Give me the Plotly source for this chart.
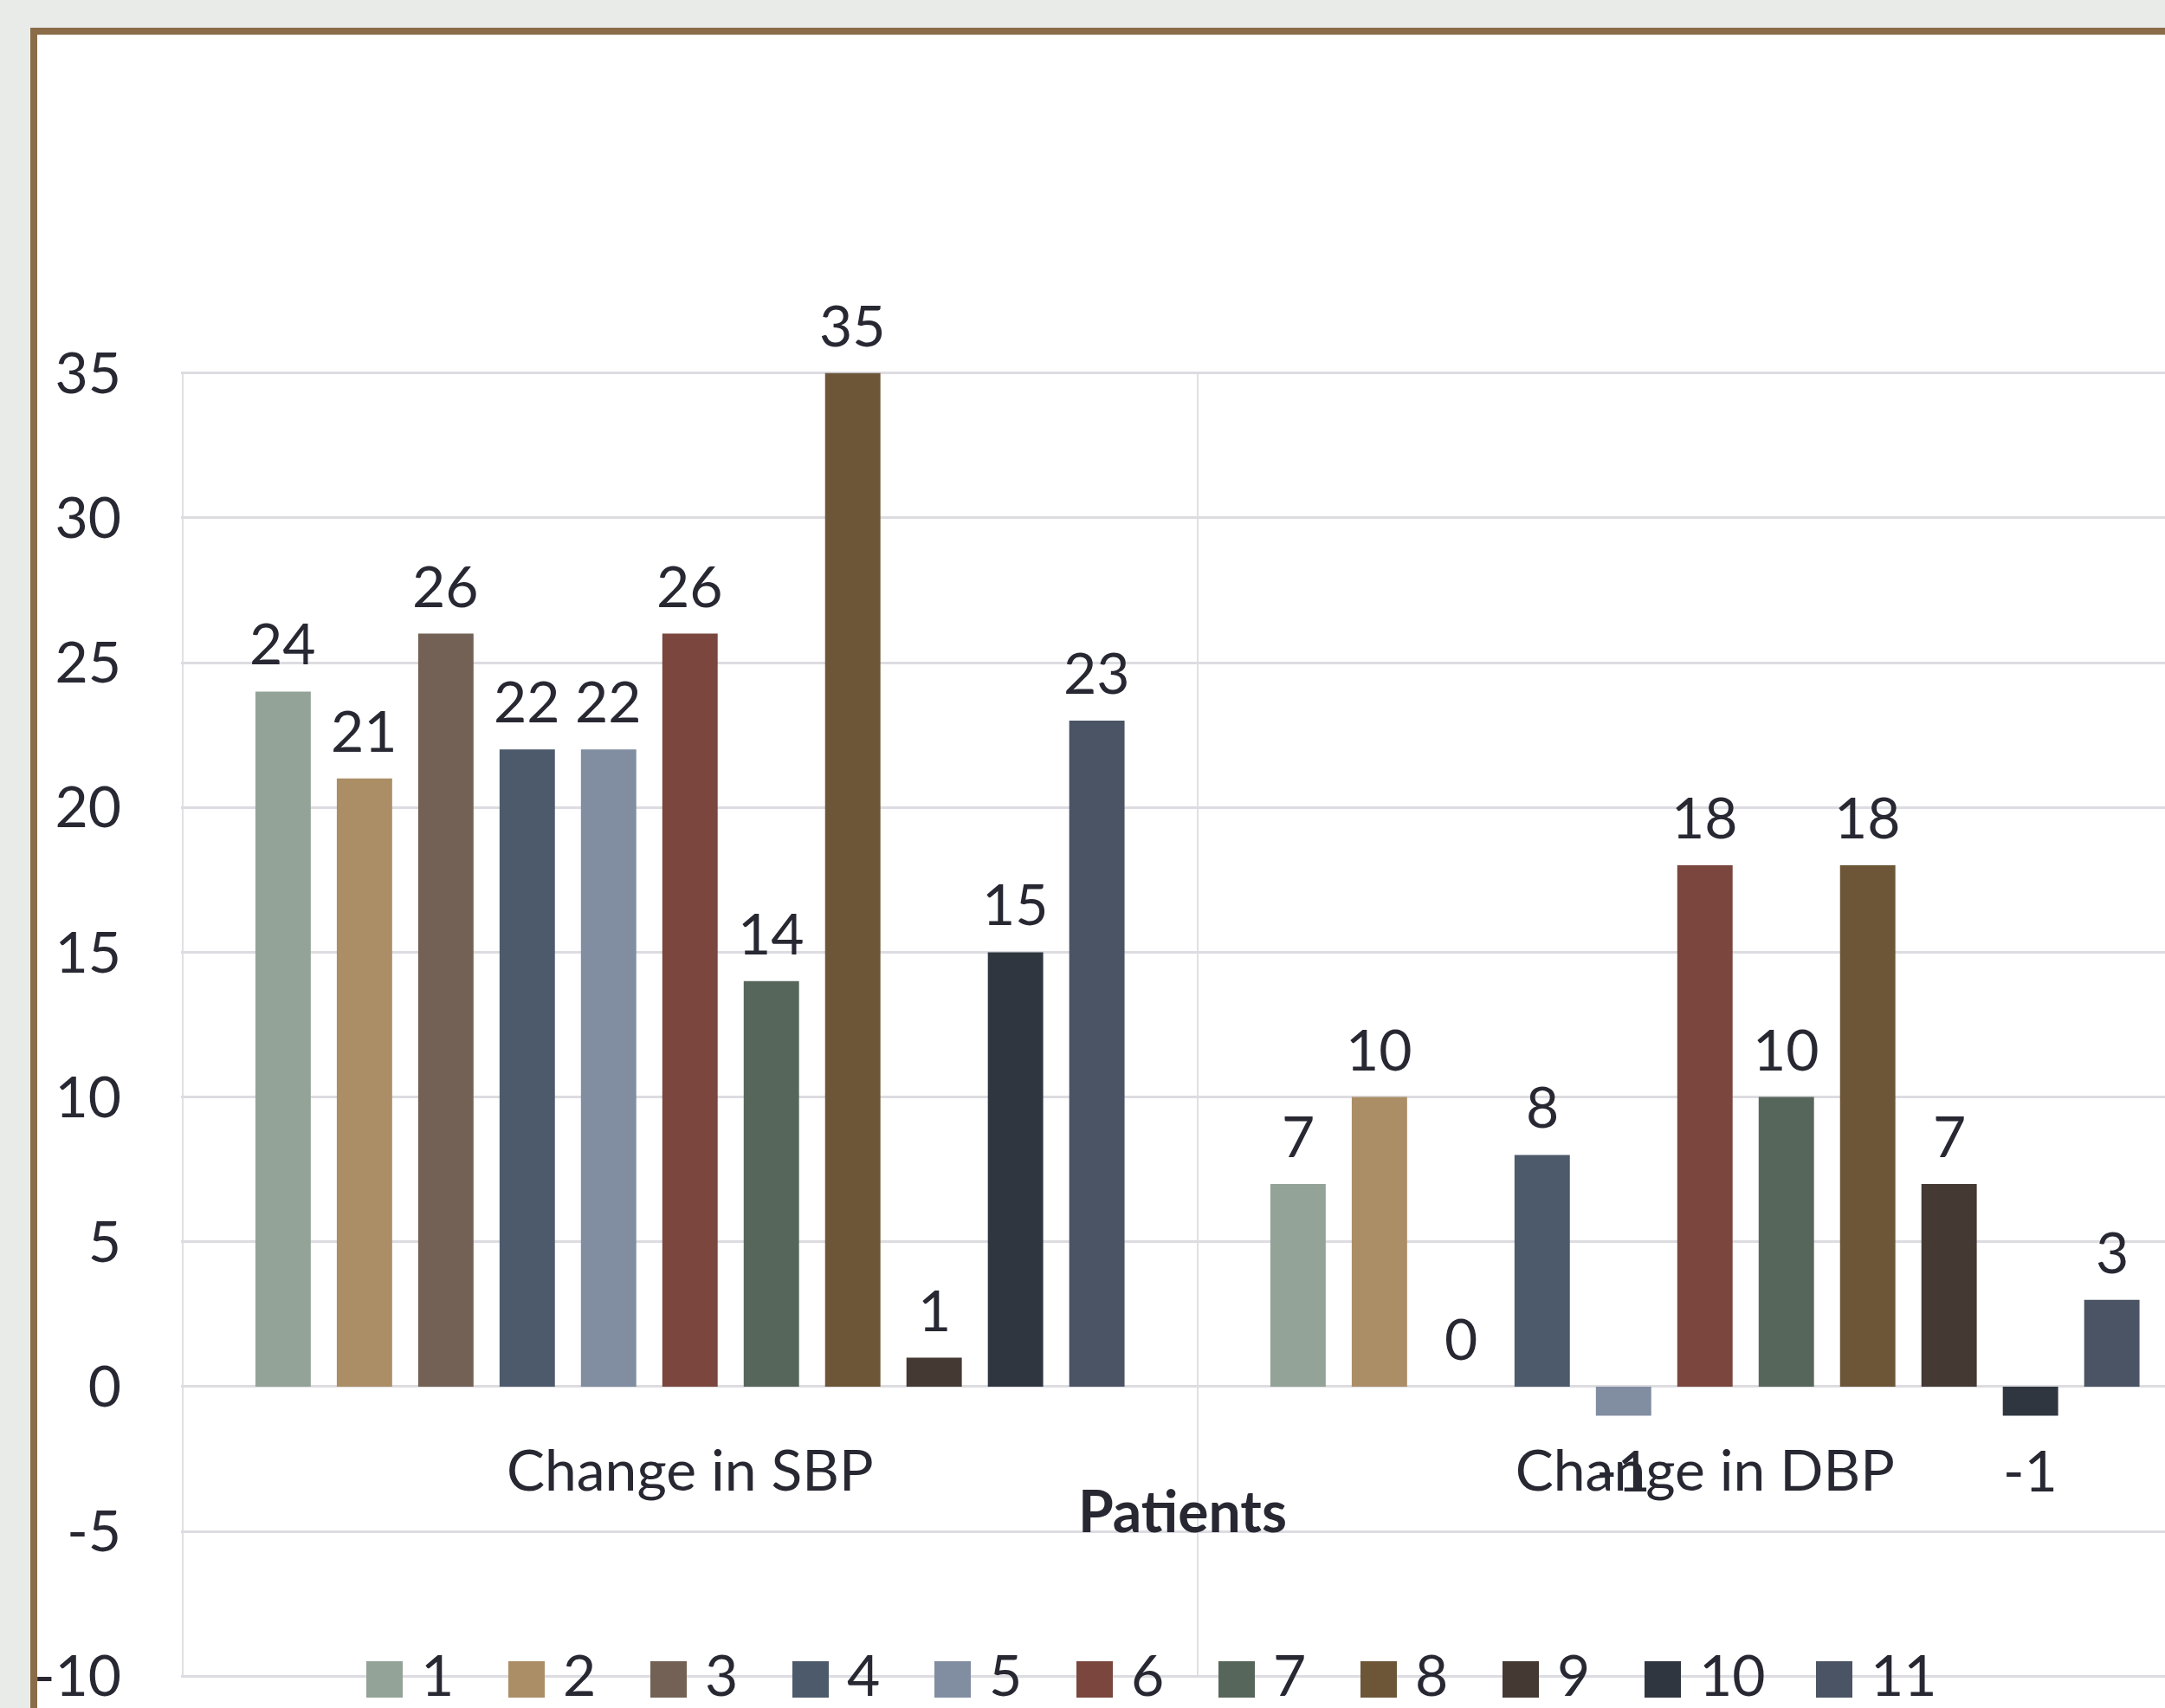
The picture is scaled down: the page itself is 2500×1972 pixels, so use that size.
import plotly.graph_objects as go

# ---- data ----
categories = ["Change in SBP", "Change in DBP"]
patients = ["1", "2", "3", "4", "5", "6", "7", "8", "9", "10", "11"]
sbp_change = [24, 21, 26, 22, 22, 26, 14, 35, 1, 15, 23]
dbp_change = [7, 10, 0, 8, -1, 18, 10, 18, 7, -1, 3]
colors = ["#93A397", "#AB8E66", "#736155", "#4D5A6B", "#818DA1", "#7A463D",
          "#57665A", "#6D5638", "#443933", "#2F3640", "#4B5464"]
y_ticks = [-10, -5, 0, 5, 10, 15, 20, 25, 30, 35]
x_title = "Patients"

# ---- geometry (pixels) ----
W, H = 2500, 1972
L, R, T, B = 209, 2500, 429, 1937
CAT_PX = 1172.0
FONT = "Lato, Calibri, sans-serif"
TXT = "#282833"
FS = 66
BARGAP, BARGROUPGAP = 0.118, 0.32
Y_RANGE = [-10.05, 35.05]
X_RANGE = [-0.5015, -0.5015 + (R - L) / CAT_PX]


def px_x(p):
    return (p - L) / (R - L)


def px_y(p):
    return (B - p) / (B - T)


fig = go.Figure()
n = len(patients)
slot_px = (1 - BARGAP) * CAT_PX / n
annotations = []
for i, name in enumerate(patients):
    vals = [sbp_change[i], dbp_change[i]]
    fig.add_trace(go.Bar(
        x=categories, y=vals, name=name,
        marker=dict(color=colors[i], line=dict(width=0)),
        showlegend=False, hoverinfo="x+y+name",
    ))
    # data labels tied to each bar's category/value
    for cat, v in zip(categories, vals):
        annotations.append(dict(
            text=str(v), x=cat, y=v, xref="x", yref="y",
            xshift=(i - (n - 1) / 2) * slot_px,
            yanchor="bottom" if v >= 0 else "top",
            yshift=15 if v >= 0 else -21,
            showarrow=False, font=dict(family=FONT, size=FS, color=TXT)))

shapes = [dict(type="rect", xref="paper", yref="paper",
               x0=px_x(39), x1=px_x(2700), y0=px_y(2100), y1=px_y(36),
               line=dict(color="#8A6D48", width=8), fillcolor="white",
               layer="below")]
annotations.append(dict(text="<b>%s</b>" % x_title, xref="paper", yref="paper",
                        x=px_x(1365), y=px_y(1743), xanchor="center", yanchor="middle",
                        showarrow=False, font=dict(family=FONT, size=FS, color=TXT)))

# manual legend
xpos = 423
for i, name in enumerate(patients):
    shapes.append(dict(type="rect", xref="paper", yref="paper",
                       x0=px_x(xpos), x1=px_x(xpos + 42),
                       y0=px_y(1960), y1=px_y(1918),
                       line=dict(width=0), fillcolor=colors[i], layer="above"))
    annotations.append(dict(text=name, xref="paper", yref="paper",
                            x=px_x(xpos + 62), y=px_y(1932),
                            xanchor="left", yanchor="middle", showarrow=False,
                            borderpad=0,
                            font=dict(family=FONT, size=FS, color=TXT)))
    xpos += 42 + 22 + 34 * len(name) + 66

fig.update_layout(
    template="none",
    width=W, height=H,
    margin=dict(l=L, r=W - R, t=T, b=H - B, pad=0),
    paper_bgcolor="#E9EBE9", plot_bgcolor="white",
    barmode="group", bargap=BARGAP, bargroupgap=BARGROUPGAP,
    font=dict(family=FONT, size=FS, color=TXT),
    shapes=shapes, annotations=annotations,
    showlegend=False,
    xaxis=dict(type="category", range=X_RANGE,
               tickson="boundaries", showgrid=True, gridcolor="#E0E0E4",
               gridwidth=2, ticks="", showline=False, zeroline=False,
               anchor="free", position=(0 - Y_RANGE[0]) / (Y_RANGE[1] - Y_RANGE[0]),
               ticklabelstandoff=53,
               tickfont=dict(family=FONT, size=FS, color=TXT), automargin=False),
    yaxis=dict(range=Y_RANGE, tickvals=y_ticks, ticktext=[str(v) for v in y_ticks],
               showgrid=True, gridcolor="#DCDCE1", gridwidth=3, zeroline=True,
               zerolinecolor="#DCDCE1", zerolinewidth=3, ticks="",
               showline=False, ticklabelstandoff=68, ticklabeloverflow="allow",
               tickfont=dict(family=FONT, size=FS, color=TXT), automargin=False),
)

fig.write_html("out.html", config={"displayModeBar": False},
               post_script="document.body.style.margin='0';document.body.style.overflow='hidden';document.body.style.background='#E9EBE9';")
